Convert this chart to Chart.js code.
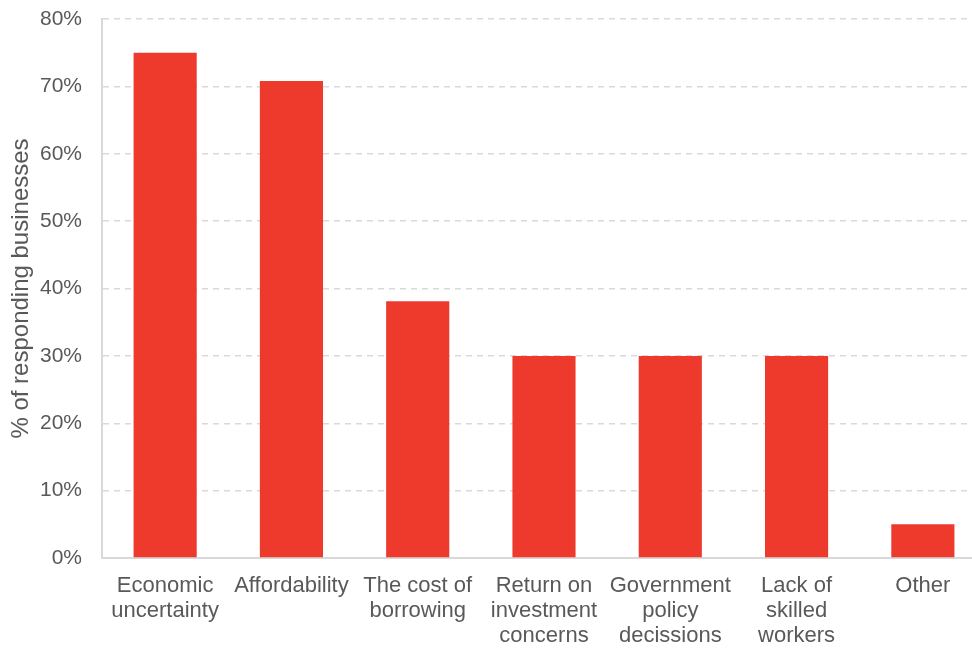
<!DOCTYPE html>
<html>
<head>
<meta charset="utf-8">
<script src="https://cdn.jsdelivr.net/npm/chart.js@4"></script>
<style>
  html, body { margin: 0; padding: 0; background: #fff; overflow: hidden; }
  #wrap { position: relative; width: 986px; height: 648px; }
</style>
</head>
<body>
<div id="wrap"><canvas id="barriersChart"></canvas></div>
<script>
// Reasons holding back investment, share of businesses
const categories = [
    ["Economic", "uncertainty"],
    "Affordability",
    ["The cost of", "borrowing"],
    ["Return on", "investment", "concerns"],
    ["Government", "policy", "decissions"],
    ["Lack of", "skilled", "workers"],
    "Other",
];
const shares = [75, 70.8, 38.1, 30, 30, 30, 5];
const yTicks = [0, 10, 20, 30, 40, 50, 60, 70, 80];

const textColor = "#595959";
const lineColor = "#d9d9d9";
const family = "Liberation Sans, Arial, sans-serif";

new Chart(document.getElementById("barriersChart"), {
    type: "bar",
    data: {
        labels: categories,
        datasets: [
            {
                label: "% of responding businesses",
                data: shares,
                backgroundColor: "#ee3a2d",
                borderWidth: 0,
                barPercentage: 0.5,
                categoryPercentage: 1,
            },
        ],
    },
    options: {
        responsive: true,
        maintainAspectRatio: false,
        animation: false,
        layout: { padding: 0 },
        plugins: { legend: { display: false }, tooltip: { enabled: false } },
        scales: {
            x: {
                grid: { display: false, drawTicks: false },
                border: { display: true, color: lineColor, width: 2 },
                ticks: {
                    color: textColor,
                    font: { family: family, size: 22, lineHeight: 1.12 },
                    padding: 16,
                    maxRotation: 0,
                    autoSkip: false,
                },
                afterFit: (scale) => {
                    scale.height = 90;
                    scale.paddingLeft = 0;
                    scale.paddingRight = 0;
                },
            },
            y: {
                min: 0,
                max: 80,
                afterBuildTicks: (axis) => {
                    axis.ticks = yTicks.map((v) => ({ value: v }));
                },
                grid: { color: lineColor, lineWidth: 1.5, drawTicks: false },
                border: { display: true, color: lineColor, width: 2, dash: [6, 5] },
                ticks: {
                    color: textColor,
                    font: { family: family, size: 21 },
                    padding: 20,
                    callback: (v) => v + "%",
                },
                title: {
                    display: true,
                    text: "% of responding businesses",
                    color: textColor,
                    font: { family: family, size: 24, lineHeight: 1.2 },
                    padding: { top: 7, bottom: 0 },
                },
                afterFit: (scale) => {
                    scale.width = 102;
                    scale.paddingTop = 19;
                    scale.paddingBottom = 0;
                },
            },
        },
    },
});
</script>
</body>
</html>
